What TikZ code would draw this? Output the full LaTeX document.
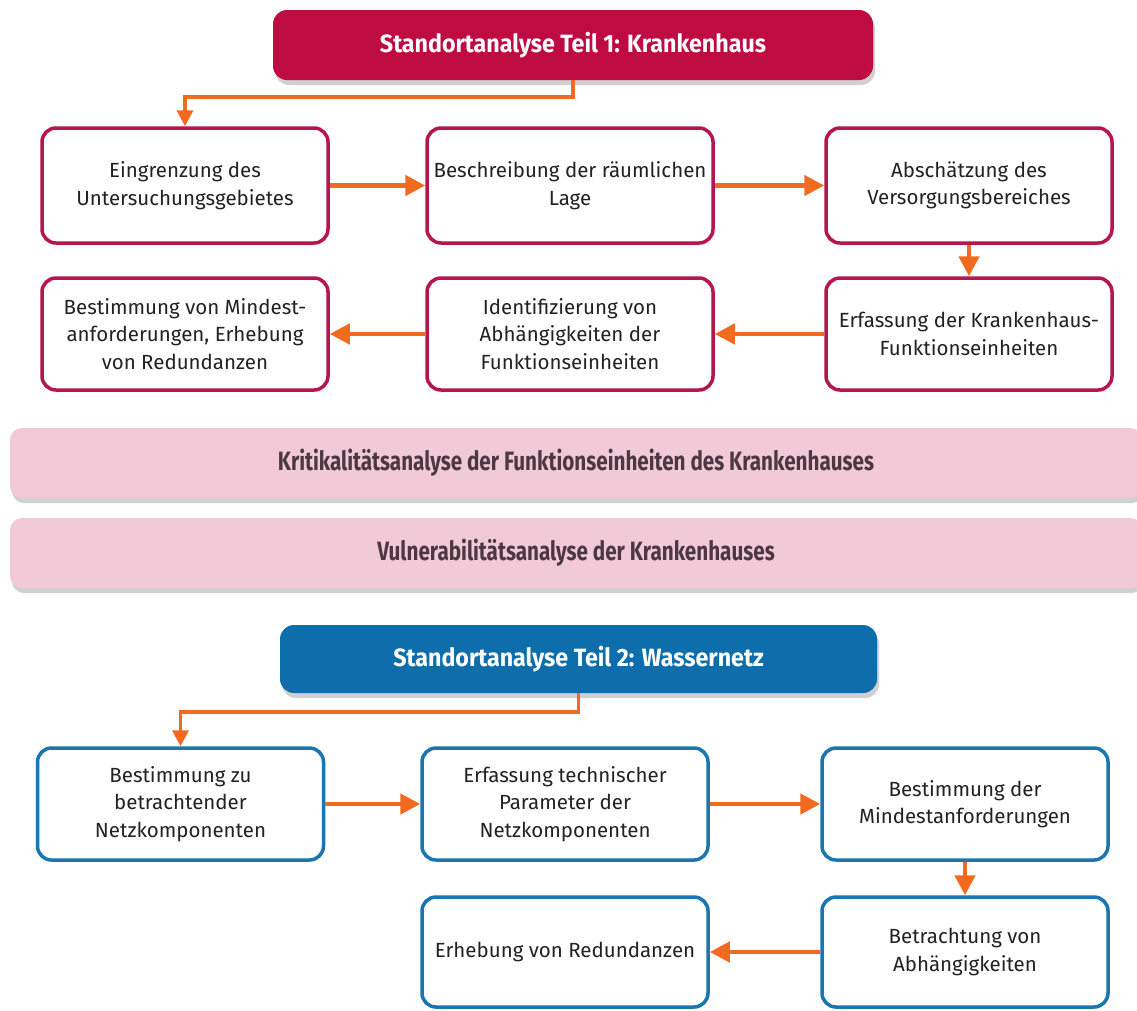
\documentclass[tikz,border=0pt]{standalone}
\usepackage{fontspec}
\setmainfont{Fira Sans}
\newfontfamily\condfont{Fira Sans}[FakeStretch=0.78]
\newfontfamily\headfont{Fira Sans}[FakeStretch=0.93]
\usetikzlibrary{arrows.meta,shadows}

\definecolor{crimson}{HTML}{BE0B41}
\definecolor{boxred}{HTML}{B51650}
\definecolor{steel}{HTML}{0D6EAB}
\definecolor{boxblue}{HTML}{1A75B0}
\definecolor{flow}{HTML}{F26A1F}
\definecolor{blush}{HTML}{F2C9D6}
\definecolor{barink}{HTML}{4B3842}
\definecolor{ink}{HTML}{222222}

\tikzset{
  header/.style={rounded corners=14pt, minimum width=600pt, minimum height=70pt,
    inner sep=0pt, text=white, font=\headfont\fontsize{25}{29}\selectfont\bfseries,
    drop shadow={shadow xshift=2pt, shadow yshift=-5pt, opacity=0.3, fill=black!60}},
  stage/.style={draw, line width=3.5pt, rounded corners=14pt, fill=white,
    minimum width=286pt, minimum height=114pt, align=center, text=ink,
    font=\fontsize{20.5}{27.5}\selectfont, inner sep=0pt},
  redstage/.style={stage, draw=boxred},
  bluestage/.style={stage, draw=boxblue, minimum height=112pt},
  band/.style={fill=blush, rounded corners=12pt, minimum width=1132pt,
    minimum height=70pt, inner sep=0pt, text=barink,
    font=\condfont\fontsize{26.5}{30}\selectfont\bfseries,
    drop shadow={shadow xshift=2pt, shadow yshift=-5pt, opacity=0.3, fill=black!60}},
  flowarrow/.style={draw=flow, line width=4.5pt, -{Triangle[length=20pt,width=20pt]}},
  elbow/.style={draw=flow, line width=3.5pt, -{Triangle[length=16pt,width=16pt]}},
}

\begin{document}
\begin{tikzpicture}[x=1pt,y=-1pt]
  \fill[white] (0,0) rectangle (1137,1010);
  \useasboundingbox (0,0) rectangle (1137,1010);

  % Part 1: hospital
  \node[header, fill=crimson] (h1) at (573,45) {Standortanalyse Teil 1: Krankenhaus};

  \node[redstage, minimum height=115pt] (r1) at (185,185.5) {Eingrenzung des\\Untersuchungsgebietes};
  \node[redstage, minimum height=115pt] (r2) at (570,185.5) {Beschreibung der räumlichen\\Lage};
  \node[redstage, minimum height=115pt] (r3) at (969,185.5) {Abschätzung des\\Versorgungsbereiches};
  \node[redstage, minimum height=112pt] (r4) at (185,334) {Bestimmung von Mindest-\\anforderungen, Erhebung\\von Redundanzen};
  \node[redstage, minimum height=112pt] (r5) at (570,334) {Identifizierung von\\Abhängigkeiten der\\Funktionseinheiten};
  \node[redstage, minimum height=112pt] (r6) at (969,334) {Erfassung der Krankenhaus-\\Funktionseinheiten};

  \draw[elbow] (h1.south) -- ++(0,17) -| (r1.north);
  \draw[flowarrow] (r1.east) -- (r2.west);
  \draw[flowarrow] (r2.east) -- (r3.west);
  \draw[flowarrow] (r3.south) -- (r6.north);
  \draw[flowarrow] (r6.west) -- (r5.east);
  \draw[flowarrow] (r5.west) -- (r4.east);

  % Analysis bands
  \node[band] (k1) at (576,463) {Kritikalitätsanalyse der Funktionseinheiten des Krankenhauses};
  \node[band] (k2) at (576,553) {Vulnerabilitätsanalyse der Krankenhauses};

  % Part 2: water network
  \node[header, fill=steel, minimum width=597pt, minimum height=68pt] (h2) at (578.5,659) {Standortanalyse Teil 2: Wassernetz};

  \node[bluestage] (w1) at (180.5,804) {Bestimmung zu\\betrachtender\\Netzkomponenten};
  \node[bluestage] (w2) at (565,804) {Erfassung technischer\\Parameter der\\Netzkomponenten};
  \node[bluestage] (w3) at (965,804) {Bestimmung der\\Mindestanforderungen};
  \node[bluestage, minimum height=110pt] (w5) at (565,952) {Erhebung von Redundanzen};
  \node[bluestage, minimum height=110pt] (w4) at (965,952) {Betrachtung von\\Abhängigkeiten};

  \draw[elbow] (h2.south) -- ++(0,19) -| (w1.north);
  \draw[flowarrow] (w1.east) -- (w2.west);
  \draw[flowarrow] (w2.east) -- (w3.west);
  \draw[flowarrow] (w3.south) -- (w4.north);
  \draw[flowarrow] (w4.west) -- (w5.east);
\end{tikzpicture}
\end{document}
